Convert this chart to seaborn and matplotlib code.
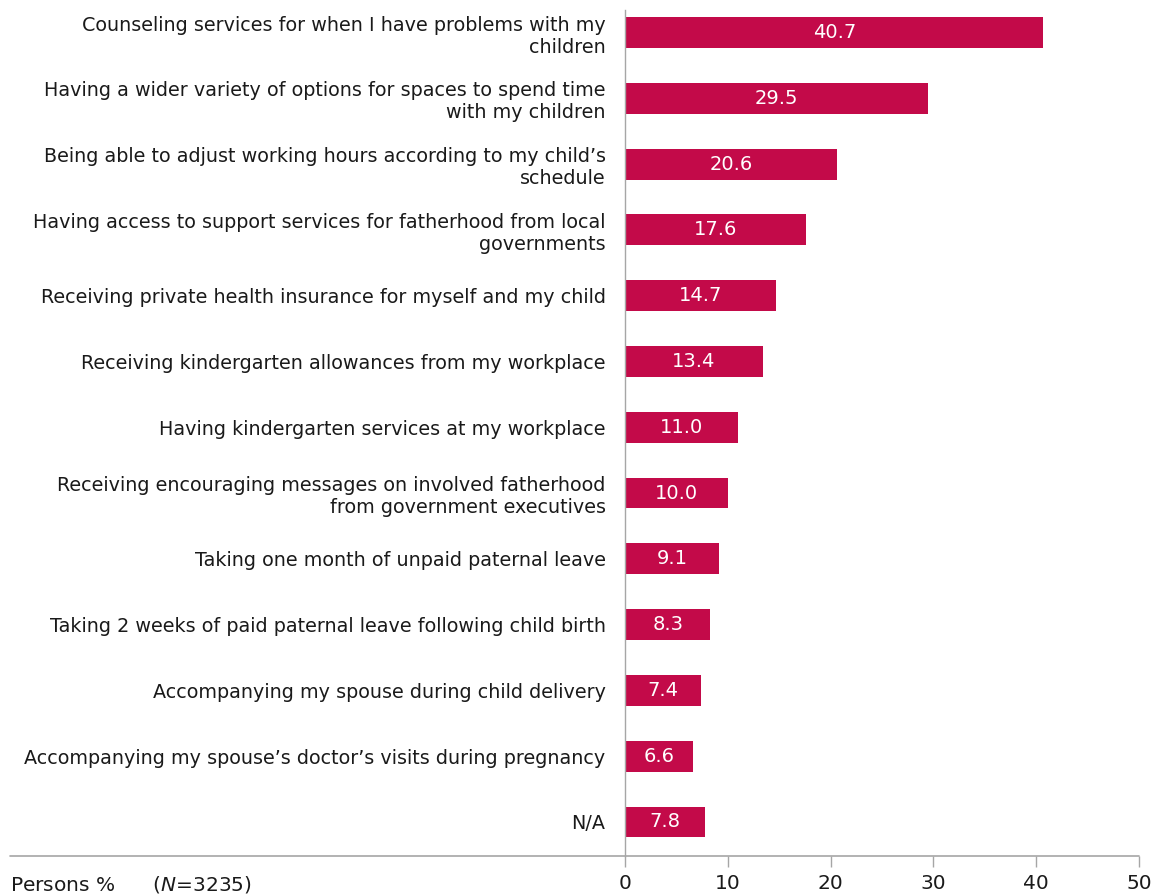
import matplotlib
matplotlib.use("Agg")
import matplotlib.pyplot as plt
from matplotlib.lines import Line2D
import seaborn as sns
import pandas as pd

categories = [
    "Counseling services for when I have problems with my\nchildren",
    "Having a wider variety of options for spaces to spend time\nwith my children",
    "Being able to adjust working hours according to my child\u2019s\nschedule",
    "Having access to support services for fatherhood from local\ngovernments",
    "Receiving private health insurance for myself and my child",
    "Receiving kindergarten allowances from my workplace",
    "Having kindergarten services at my workplace",
    "Receiving encouraging messages on involved fatherhood\nfrom government executives",
    "Taking one month of unpaid paternal leave",
    "Taking 2 weeks of paid paternal leave following child birth",
    "Accompanying my spouse during child delivery",
    "Accompanying my spouse\u2019s doctor\u2019s visits during pregnancy",
    "N/A",
]
values = [40.7, 29.5, 20.6, 17.6, 14.7, 13.4, 11.0, 10.0, 9.1, 8.3, 7.4, 6.6, 7.8]
x_ticks = [0, 10, 20, 30, 40, 50]

BAR_COLOR = "#C30A49"
GRID_GRAY = "#A6A6A6"

sns.set_theme(style="white")
plt.rcParams["font.family"] = ["DejaVu Sans"]

df = pd.DataFrame({"category": categories, "value": values})

W, H = 1161, 896
fig = plt.figure(figsize=(W / 100, H / 100), dpi=100)
ax = fig.add_axes([625 / W, 1 - 856 / H, (1139 - 625) / W, (856 - 10) / H])

sns.barplot(data=df, x="value", y="category", orient="h", color=BAR_COLOR,
            saturation=1, width=0.47, ax=ax, order=categories, linewidth=0)

ax.set_xlim(0, 50)
ax.set_ylim(12.517, -0.342)
ax.set_xticks(x_ticks)
ax.set_xticklabels([str(t) for t in x_ticks], fontsize=14.5, color="#1a1a1a")
ax.set_xlabel("")
ax.set_ylabel("")

ax.tick_params(axis="y", length=0, pad=14, labelsize=13.8, labelcolor="#1a1a1a")
ax.tick_params(axis="x", direction="out", length=8, width=1, color=GRID_GRAY,
               pad=5, bottom=True)

for side in ["top", "right", "bottom"]:
    ax.spines[side].set_visible(False)
ax.spines["left"].set_color(GRID_GRAY)
ax.spines["left"].set_linewidth(1)

# value labels centred inside each bar
for container in ax.containers:
    ax.bar_label(container, labels=[f"{v:.1f}" for v in values],
                 label_type="center", color="white", fontsize=14)

# baseline spanning from the left margin to the end of the scale
y_base = 1 - 856 / H
fig.add_artist(Line2D([10 / W, 1139 / W], [y_base, y_base],
                      transform=fig.transFigure, color=GRID_GRAY, lw=1.2))

fig.text(10 / W, 1 - 884 / H, r"Persons %      ($\mathit{N}$=3235)",
         fontsize=14.5, color="#1a1a1a", va="center", ha="left")

fig.savefig("out.png", dpi=100)
